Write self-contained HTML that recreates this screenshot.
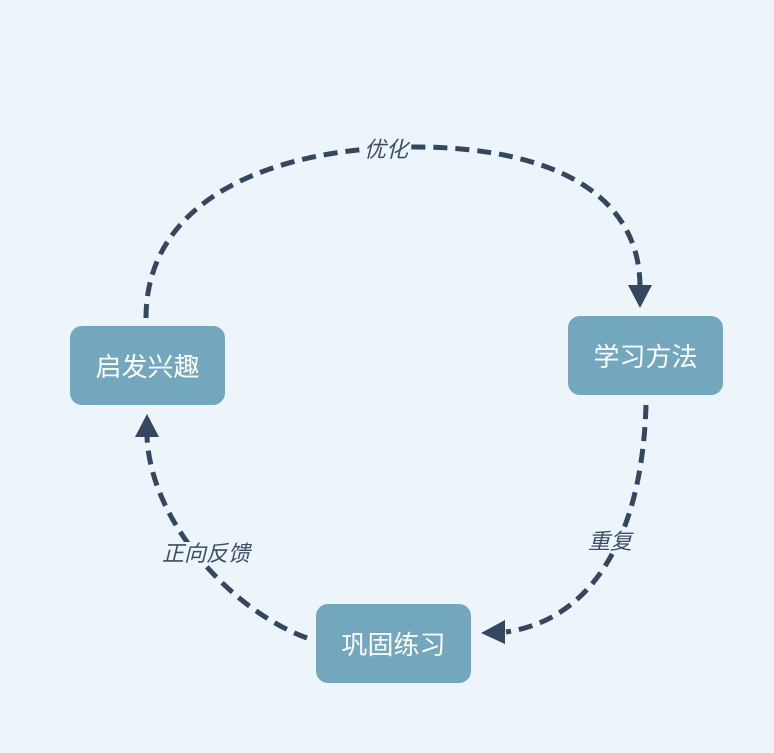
<!DOCTYPE html>
<html><head><meta charset="utf-8"><style>
body{margin:0;width:774px;height:753px;background:#edf4fa;overflow:hidden;font-family:"Liberation Sans","Noto Sans CJK SC",sans-serif}
.b{position:absolute;width:155px;height:79px;background:#72a7bd;border-radius:12px;color:#fff;font-size:26px;display:flex;align-items:center;justify-content:center}
</style></head><body>
<svg width="774" height="753" style="position:absolute;left:0;top:0">
<g fill="none" stroke="#34475e" stroke-width="5" stroke-dasharray="14,8">
<path d="M146,318 C146,195 280,147 415,147 C545,147 640,190 640,287"/>
<path d="M646,405 C642,540 590,620 506,632"/>
<path d="M307,638 C230,610 150,520 147,436"/>
</g>
<g fill="#34475e">
<polygon points="628,285 652,285 640,308"/>
<polygon points="505,620 505,644 481,633"/>
<polygon points="135,437 159,437 147,414"/>
</g>
<g font-size="22" font-style="italic" fill="#3d4e66" text-anchor="middle" font-family="Liberation Sans,Noto Sans CJK SC,sans-serif">
<rect x="364" y="138" width="44" height="22" fill="#edf4fa"/>
<text x="386" y="157">优化</text>
<rect x="588" y="530" width="44" height="22" fill="#edf4fa"/>
<text x="610" y="549">重复</text>
<rect x="160" y="542" width="90" height="22" fill="#edf4fa"/>
<text x="206" y="561">正向反馈</text>
</g>
</svg>
<div class="b" style="left:70px;top:326px">启发兴趣</div>
<div class="b" style="left:568px;top:316px">学习方法</div>
<div class="b" style="left:316px;top:604px">巩固练习</div>
</body></html>
